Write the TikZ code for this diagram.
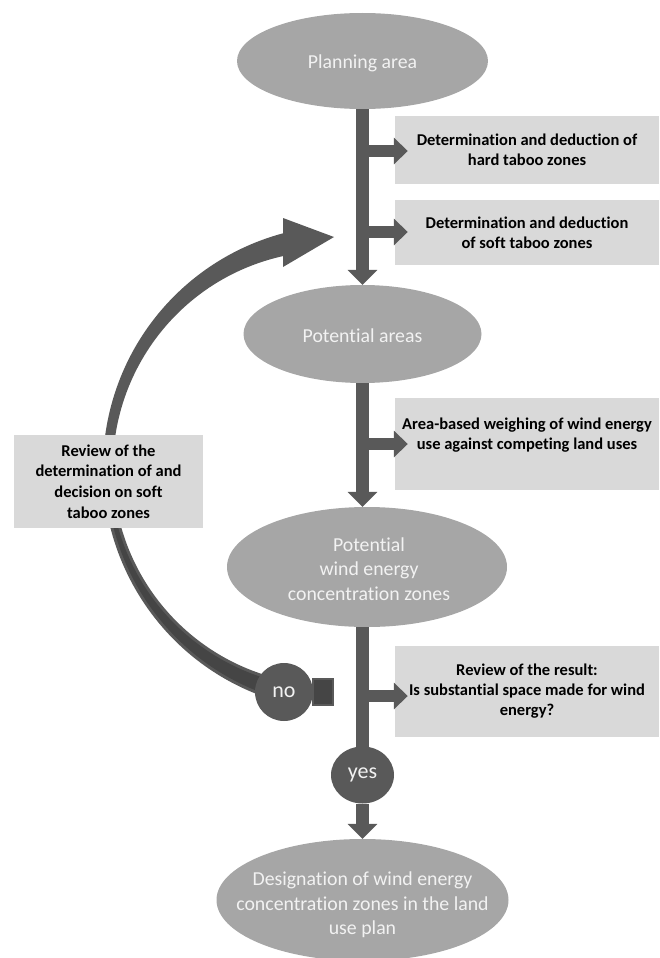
\documentclass[tikz,border=0pt]{standalone}
\usepackage{fontspec}
\setmainfont{Carlito}[Ligatures=NoCommon]
\usetikzlibrary{shapes.geometric,arrows.meta}
\definecolor{ellfill}{HTML}{A6A6A6}
\definecolor{dark}{HTML}{595959}
\definecolor{darker}{HTML}{454545}
\definecolor{boxfill}{HTML}{D9D9D9}
\definecolor{lighttext}{HTML}{F2F2F2}
\begin{document}
\begin{tikzpicture}[x=1pt,y=-1pt,
  ell/.style={ellipse, fill=ellfill, draw=none, inner sep=0pt},
  elltxt/.style={text=lighttext, align=center, inner sep=0pt, font=\fontsize{19.8}{24.5}\selectfont},
  infobox/.style={rectangle, fill=boxfill, draw=none, inner sep=0pt, align=center, text=black, font=\bfseries\fontsize{16.5}{20}\selectfont},
  trunk/.style={draw=dark, line width=13pt, -{Triangle[width=29pt,length=15pt]}},
  branch/.style={draw=dark, line width=12pt, -{Triangle[width=26pt,length=14pt]}, shorten >=-13pt},
  decision/.style={ellipse, fill=dark, text=lighttext, inner sep=0pt, font=\fontsize{22}{26}\selectfont}
]
\useasboundingbox (0,0) rectangle (659,958);

% curved feedback arrow
\fill[dark] (346,468) ++(105:243) arc (105:255:243)
  -- (283,218) -- (334,237) -- (283,267) -- (283,256.1)
  arc (257.5:105:217) -- cycle;
\fill[darker] (346,468) ++(108:240) arc (108:170:240)
  -- (113.3,506.2) arc (170:108:220) -- cycle;

% review box
\node[infobox, minimum width=189pt, minimum height=93pt, font=\bfseries\fontsize{16.5}{20.7}\selectfont] (review) at (108.5,481.5)
  {Review of the\\determination of and\\decision on soft\\taboo zones};

% no decision
\node[rectangle, fill=darker, draw=dark, line width=1.5pt, minimum width=20pt, minimum height=26pt, inner sep=0pt] (notab) at (323,692) {};
\node[decision, minimum width=58pt, minimum height=58pt] (no) at (284,692) {no};

% ellipses
\node[ell, minimum width=251pt, minimum height=96pt] (plan) at (362.5,61) {};
\node[elltxt] (plantxt) at (362.5,63) {Planning area};
\node[ell, minimum width=238pt, minimum height=98pt] (pota) at (362.5,334) {};
\node[elltxt] (potatxt) at (362.5,336) {Potential areas};
\node[ell, minimum width=280pt, minimum height=120pt] (pwez) at (367,567) {};
\node[elltxt] (pweztxt) at (369,569) {Potential\\wind energy\\concentration zones};
\node[ell, minimum width=292pt, minimum height=122pt] (fin) at (362.5,900) {};
\node[elltxt] (fintxt) at (362.5,905) {Designation of wind energy\\concentration zones in the land\\use plan};

% info boxes
\node[infobox, minimum width=264pt, minimum height=68pt] (box1) at (527,150)
  {Determination and deduction of\\hard taboo zones};
\node[infobox, minimum width=264pt, minimum height=65pt] (box2) at (527,232.5)
  {Determination and deduction\\of soft taboo zones};
\node[infobox, minimum width=264pt, minimum height=92pt] (box3) at (527,444)
  {Area-based weighing of wind energy\\use against competing land uses\\\mbox{}};
\node[infobox, minimum width=264pt, minimum height=91pt] (box4) at (527,691.5)
  {Review of the result:\\Is substantial space made for wind\\energy?};

% junctions on the main flow
\coordinate (j1) at (362.5,151);
\coordinate (j2) at (362.5,232);
\coordinate (j3) at (362.5,444);
\coordinate (j4) at (362.5,696);
\coordinate (yespos) at (362.5,775);

% main flow
\draw[trunk] (plan.south) -- (pota.north);
\draw[branch] (j1) -- (j1 -| box1.west);
\draw[branch] (j2) -- (j2 -| box2.west);
\draw[trunk] (pota.south) -- (pota.south |- pwez.north);
\draw[branch] (j3) -- (j3 -| box3.west);
\draw[draw=dark, line width=13pt] (yespos |- pwez.south) -- (yespos);
\draw[branch] (j4) -- (j4 -| box4.west);
\node[decision, minimum width=63pt, minimum height=57pt] (yes) at (yespos) {yes};
\draw[trunk] (yes.south) -- (fin.north);
\end{tikzpicture}
\end{document}
